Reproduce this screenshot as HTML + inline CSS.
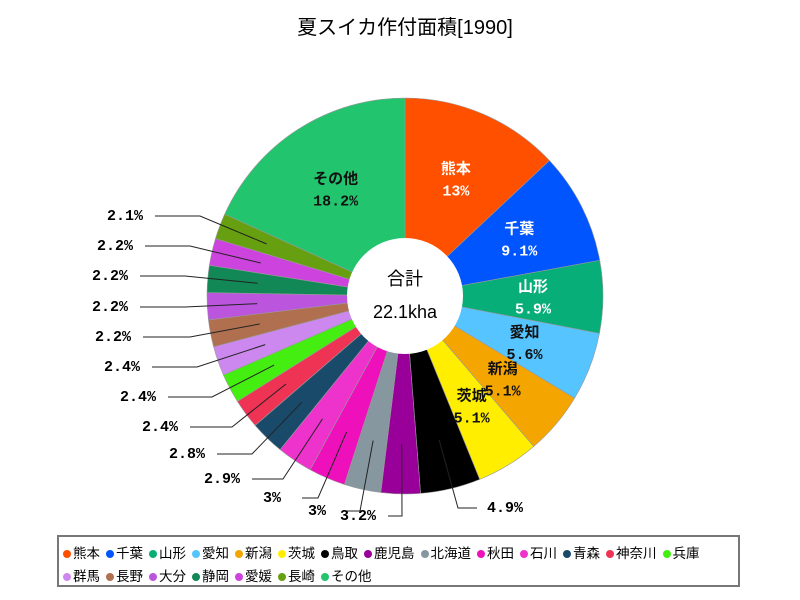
<!DOCTYPE html>
<html><head><meta charset="utf-8"><style>
body{margin:0;background:#fff;width:800px;height:600px;overflow:hidden;font-family:"Liberation Sans","Noto Sans CJK JP",sans-serif}
svg text{font-family:"Liberation Mono","Noto Sans CJK JP",monospace}
#legend{position:absolute;left:57px;top:535px;width:683px;height:52px;border:2px solid #777;box-sizing:border-box;padding:5px 0 0 4px;display:flex;flex-wrap:wrap;font-size:13.5px;line-height:23px;font-family:"Liberation Sans","Noto Sans CJK JP",sans-serif}
.li{display:flex;align-items:center;margin-right:6px}
.dot{width:8px;height:8px;border-radius:50%;margin-right:2px}
</style></head><body>
<svg id="chart" width="800" height="600" style="position:absolute;left:0;top:0">
<text x="405" y="34" text-anchor="middle" font-size="20" style="font-family:'Liberation Sans','Noto Sans CJK JP',sans-serif">夏スイカ作付面積[1990]</text>
<g id="slices"></g><g id="labels"></g>
<circle cx="405" cy="296" r="58" fill="#fff"/>
<text x="405" y="285" text-anchor="middle" font-size="18" style="font-family:'Liberation Sans','Noto Sans CJK JP',sans-serif">合計</text>
<text x="405" y="318" text-anchor="middle" font-size="18" style="font-family:'Liberation Sans','Noto Sans CJK JP',sans-serif">22.1kha</text>
</svg>
<div id="legend"></div>
<script>
const categories=["熊本","千葉","山形","愛知","新潟","茨城","鳥取","鹿児島","北海道","秋田","石川","青森","神奈川","兵庫","群馬","長野","大分","静岡","愛媛","長崎","その他"];
const values=[13,9.1,5.9,5.6,5.1,5.1,4.9,3.2,3,3,2.9,2.8,2.4,2.4,2.4,2.2,2.2,2.2,2.2,2.1,18.2];
const colors=["#ff5000","#0055ff","#08ae78","#55c4ff","#f5a500","#ffee00","#000000","#990099","#8797a0","#ee11bb","#ee33cc","#1a4a6a","#ee3355","#44ee11","#cc88ee","#b07050","#bb55dd","#118855","#cc44dd","#66a010","#22c46e"];
const insideWhite=[true,true,true,false,false,false];
// layout for outside labels: [textX,textY,elbowX] (positions only)
const outLayout={6:[505,512,458],7:[358,520,402],8:[317,515,360],9:[272,502,318],10:[222,483,283],11:[187,458,252],12:[160,431,232],13:[138,401,212],14:[122,371,197],15:[113,341,190],16:[110,311,185],17:[110,280,185],18:[115,250,190],19:[125,220,200]};
const cx=405,cy=296,R=198,NS="http://www.w3.org/2000/svg";
const total=values.reduce((a,b)=>a+b,0);
function pt(a,r){return [cx+r*Math.sin(a),cy-r*Math.cos(a)];}
const gs=document.getElementById('slices'),gl=document.getElementById('labels');
let acc=0;
values.forEach((v,i)=>{
 const a0=acc/total*2*Math.PI;acc+=v;const a1=acc/total*2*Math.PI;const am=(a0+a1)/2;
 const p0=pt(a0,R),p1=pt(a1,R);
 const p=document.createElementNS(NS,'path');
 p.setAttribute('d',`M${cx},${cy}L${p0[0]},${p0[1]}A${R},${R} 0 ${a1-a0>Math.PI?1:0} 1 ${p1[0]},${p1[1]}Z`);
 p.setAttribute('fill',colors[i]);p.setAttribute('stroke','#999');p.setAttribute('stroke-width','0.6');
 
 
 gs.appendChild(p);
 const pct=(Math.round(v/total*1000)/10)+'%';
 if(i<6||i===20){
  const c=pt(am,128);
  const t=document.createElementNS(NS,'text');
  t.setAttribute('x',c[0]);t.setAttribute('y',c[1]-5);t.setAttribute('text-anchor','middle');t.setAttribute('font-size','15');t.setAttribute('font-weight','bold');
  t.setAttribute('fill',(i<3)?'#fff':'#111');
  t.innerHTML=`<tspan x="${c[0]}">${categories[i]}</tspan><tspan x="${c[0]}" dy="22">${pct}</tspan>`;
  
  
  gl.appendChild(t);
 } else {
  const L=outLayout[i];const c=pt(am,148);
  const right=i===6;
  const pl=document.createElementNS(NS,'polyline');
  const sx=right?L[0]-28:L[0]+30;
  pl.setAttribute('points',`${c[0]},${c[1]} ${L[2]},${L[1]-4} ${sx},${L[1]-4}`);
  pl.setAttribute('fill','none');pl.setAttribute('stroke','#222');pl.setAttribute('stroke-width','1');
  
  
  gl.appendChild(pl);
  const t=document.createElementNS(NS,'text');
  t.setAttribute('x',L[0]);t.setAttribute('y',L[1]);t.setAttribute('text-anchor','middle');t.setAttribute('font-size','15');t.setAttribute('font-weight','bold');
  t.textContent=pct;
  
  
  gl.appendChild(t);
 }
});
const lg=document.getElementById('legend');
categories.forEach((c,i)=>{
 const d=document.createElement('div');d.className='li';
 
 
 d.innerHTML=`<span class="dot" style="background:${colors[i]}"></span>${c}`;
 lg.appendChild(d);
});
</script>
</body></html>
